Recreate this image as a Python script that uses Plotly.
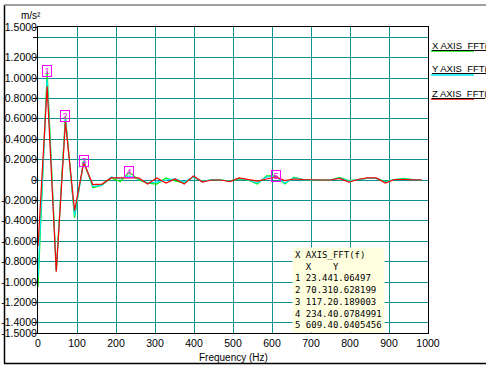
import plotly.graph_objects as go

freq = [0, 23.44, 46.88, 70.31, 93.75, 117.19, 140.63, 164.06, 187.5, 210.94,
        234.38, 257.81, 281.25, 304.69, 328.13, 351.56, 375.0, 398.44, 421.88, 445.31,
        468.75, 492.19, 515.63, 539.06, 562.5, 585.94, 609.38, 632.81, 656.25, 679.69,
        703.13, 726.56, 750.0, 773.44, 796.88, 820.31, 843.75, 867.19, 890.63, 914.06,
        937.5, 960.94, 984.38]

x_fft = [-1.05, 1.065, -0.89, 0.628, -0.37, 0.189, -0.075, -0.05, 0.02, -0.015,
         0.078, 0.0, -0.03, -0.04, 0.02, -0.01, -0.03, 0.03, -0.015, 0.005,
         0.0, -0.01, 0.01, 0.0, -0.04, 0.04, 0.0405, -0.04, 0.027, 0.005,
         0.0, 0.0, 0.0, 0.025, -0.005, 0.005, 0.015, 0.015, -0.015, 0.005,
         0.015, 0.005, 0.0]

y_fft = [-0.95, 0.99, -0.89, 0.60, -0.35, 0.18, -0.065, -0.05, 0.03, 0.01,
         0.04, 0.01, -0.03, -0.02, 0.0, 0.01, -0.02, 0.03, -0.015, 0.005,
         0.0, -0.01, 0.015, 0.0, -0.03, 0.03, 0.035, -0.03, 0.02, 0.005,
         0.0, 0.0, 0.0, 0.02, -0.01, 0.005, 0.015, 0.015, -0.02, 0.005,
         0.01, 0.005, 0.0]

z_fft = [-0.65, 0.92, -0.90, 0.57, -0.30, 0.17, -0.045, -0.04, 0.02, 0.02,
         0.02, 0.02, -0.04, 0.02, -0.03, 0.01, -0.04, 0.04, -0.02, 0.0,
         0.0, -0.015, 0.02, 0.005, -0.01, 0.01, 0.03, -0.005, 0.01, 0.005,
         0.0, 0.0, 0.0, 0.015, -0.02, 0.005, 0.02, 0.02, -0.03, 0.005,
         0.005, 0.005, 0.0]

peak_ids = ["1", "2", "3", "4", "5"]
peak_x = [23.44, 70.31, 117.2, 234.4, 609.4]
peak_y = [1.06497, 0.628199, 0.189003, 0.0784991, 0.0405456]
peak_x_txt = ["23.44", "70.31", "117.2", "234.4", "609.4"]
peak_y_txt = ["1.06497", "0.628199", "0.189003", "0.0784991", "0.0405456"]

series_names = ["X AXIS_FFT(f)", "Y AXIS_FFT(f)", "Z AXIS_FFT(f)"]
series_colors = ["#00ee00", "#00e8f0", "#ff0000"]

y_tickvals = [1.5, 1.4, 1.2, 1.0, 0.8, 0.6, 0.4, 0.2, 0, -0.2, -0.4, -0.6, -0.8, -1.0, -1.2, -1.4, -1.5]
y_ticktext = ["1.5000", "", "1.2000", "1.0000", "0.8000", "0.6000", "0.4000", "0.2000", "0",
              "-0.2000", "-0.4000", "-0.6000", "-0.8000", "-1.0000", "-1.2000", "-1.4000", "-1.5000"]
x_tickvals = [0, 100, 200, 300, 400, 500, 600, 700, 800, 900, 1000]

L, R, T, B = 38, 58, 27, 32
W, H = 486, 365
pw, ph = W - L - R, H - T - B


def px_x(px):
    return (px - L) / pw


def px_y(py):
    return (H - B - py) / ph


fig = go.Figure()
for name, vals, col in zip(series_names, [x_fft, y_fft, z_fft], series_colors):
    fig.add_trace(go.Scatter(x=freq, y=vals, mode="lines", name=name,
                             line=dict(color=col, width=1.2), showlegend=False))

# peak markers
for pid, px, py in zip(peak_ids, peak_x, peak_y):
    fig.add_annotation(x=px, y=py, xref="x", yref="y", text=pid, showarrow=False,
                       font=dict(family="Liberation Sans, Arial", size=9, color="#ff00ff"),
                       bordercolor="#ff00ff", borderwidth=1, borderpad=0,
                       width=8, height=10, xanchor="center", yanchor="middle", valign="top")

# legend-like labels at right
leg_y = [45, 69, 93]
for name, col, yy in zip(series_names, series_colors, leg_y):
    fig.add_annotation(x=px_x(430), y=px_y(yy), xref="paper", yref="paper",
                       text="<u>" + name + "</u>",
                       showarrow=False, xanchor="left", yanchor="middle",
                       font=dict(family="Liberation Sans, Arial", size=9.5, color="#000000"))
    fig.add_shape(type="line", xref="paper", yref="paper", x0=px_x(431), x1=px_x(474),
                  y0=px_y(yy + 6), y1=px_y(yy + 6), line=dict(color=col, width=1.5))

# data table
nb = "\u00a0"
lines = ["X" + nb + "AXIS_FFT(f)", nb * 2 + "X" + nb * 4 + "Y"]
for pid, xt, yt in zip(peak_ids, peak_x_txt, peak_y_txt):
    lines.append(pid + nb + xt + yt)
fig.add_annotation(x=px_x(292), y=px_y(333), xref="paper", yref="paper", text="<br>".join(lines),
                   showarrow=False, xanchor="left", yanchor="bottom", align="left",
                   font=dict(family="DejaVu Sans Mono, monospace", size=9, color="#000000"),
                   bgcolor="#ffffe0", borderpad=2)

# unit label and axis title
fig.add_annotation(x=px_x(31), y=px_y(16), xref="paper", yref="paper", text="m/s²",
                   showarrow=False, xanchor="center", yanchor="middle",
                   font=dict(family="Liberation Sans, Arial", size=10, color="#000000"))
fig.add_annotation(x=0.5, y=px_y(357), xref="paper", yref="paper", text="Frequency (Hz)",
                   showarrow=False, xanchor="center", yanchor="middle",
                   font=dict(family="Liberation Sans, Arial", size=10, color="#000000"))

# outer frame
fig.add_shape(type="line", xref="paper", yref="paper", x0=px_x(4.5), x1=px_x(4.5),
              y0=px_y(5), y1=px_y(363.5), line=dict(color="#000000", width=1.5))
fig.add_shape(type="line", xref="paper", yref="paper", x0=px_x(4), x1=px_x(490),
              y0=px_y(363.5), y1=px_y(363.5), line=dict(color="#000000", width=1.5))
fig.add_shape(type="line", xref="paper", yref="paper", x0=px_x(4), x1=px_x(490),
              y0=px_y(5), y1=px_y(5), line=dict(color="#808080", width=1.5))

fig.update_layout(
    width=W, height=H,
    margin=dict(l=L, r=R, t=T, b=B, pad=0),
    paper_bgcolor="#ffffff", plot_bgcolor="#ffffff",
    showlegend=False,
    font=dict(family="Liberation Sans, Arial", size=10, color="#000000"),
)
fig.update_xaxes(range=[0, 1000], tickvals=x_tickvals, showgrid=True, gridcolor="#119090",
                 gridwidth=1, showline=True, linecolor="#000000", linewidth=1, mirror=True,
                 zeroline=False, ticks="", tickfont=dict(size=10.5), automargin=False)
fig.update_yaxes(range=[-1.5, 1.5], tickvals=y_tickvals, ticktext=y_ticktext, showgrid=True,
                 gridcolor="#119090", gridwidth=1, showline=True, linecolor="#000000",
                 linewidth=1, mirror=True, zeroline=False, ticks="outside", ticklen=4,
                 tickcolor="#000000", ticklabelstandoff=-6, tickfont=dict(size=10.5),
                 automargin=False)

fig.write_html("out.html", config={"displayModeBar": False},
               post_script="document.body.style.margin='0';document.body.style.overflow='hidden';")
